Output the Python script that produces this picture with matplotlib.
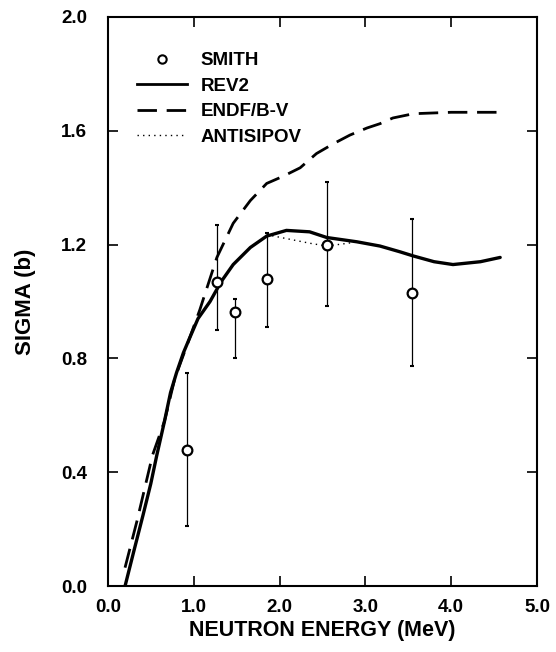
import matplotlib
matplotlib.use("Agg")
import matplotlib.pyplot as plt
from matplotlib.lines import Line2D

# SMITH data
smith_e = [0.92, 1.27, 1.48, 1.85, 2.55, 3.54]
smith_s = [0.48, 1.07, 0.965, 1.08, 1.20, 1.03]
smith_lo = [0.21, 0.90, 0.80, 0.91, 0.985, 0.775]
smith_hi = [0.75, 1.27, 1.01, 1.24, 1.42, 1.29]

# REV2 curve
rev2_e = [0.20, 0.30, 0.41, 0.50, 0.57, 0.66, 0.73, 0.80, 0.88, 0.95, 1.05, 1.19,
          1.32, 1.46, 1.66, 1.85, 2.08, 2.35, 2.55, 2.90, 3.17, 3.40, 3.56, 3.80,
          4.02, 4.34, 4.57]
rev2_s = [0.00, 0.12, 0.25, 0.36, 0.46, 0.58, 0.68, 0.75, 0.82, 0.87, 0.94, 1.00,
          1.07, 1.13, 1.19, 1.23, 1.25, 1.245, 1.225, 1.21, 1.195, 1.175, 1.16, 1.14,
          1.13, 1.14, 1.155]

# ENDF/B-V curve
endf_e = [0.20, 0.34, 0.52, 0.66, 0.78, 0.95, 1.07, 1.27, 1.46, 1.66, 1.85, 2.04,
          2.24, 2.43, 2.63, 2.82, 3.02, 3.17, 3.32, 3.56, 4.00, 4.55]
endf_s = [0.065, 0.23, 0.46, 0.58, 0.73, 0.87, 0.97, 1.155, 1.275, 1.355, 1.415, 1.44,
          1.47, 1.52, 1.555, 1.585, 1.61, 1.625, 1.645, 1.66, 1.665, 1.665]

# ANTISIPOV curve
anti_e = [1.85, 2.10, 2.35, 2.55, 2.80, 2.90]
anti_s = [1.235, 1.22, 1.205, 1.195, 1.205, 1.21]

xticks = [0, 1, 2, 3, 4, 5]
xticklabels = ["0.0", "1.0", "2.0", "3.0", "4.0", "5.0"]
yticks = [0.0, 0.4, 0.8, 1.2, 1.6, 2.0]
yticklabels = ["0.0", "0.4", "0.8", "1.2", "1.6", "2.0"]

plt.rcParams['font.family'] = ['Liberation Sans', 'DejaVu Sans']

fig = plt.figure(figsize=(5.56, 6.52), dpi=100)
ax = fig.add_axes([0.194, 0.101, 0.772, 0.873])

ax.plot(rev2_e, rev2_s, color='black', lw=2.4, ls='-', label='REV2',
        solid_joinstyle='round', solid_capstyle='round')
ax.plot(endf_e, endf_s, color='black', lw=2.0, ls=(0, (7, 3.5)), label='ENDF/B-V',
        dash_joinstyle='round')
ax.plot(anti_e, anti_s, color='black', lw=1.0, ls=(0, (1, 3)), label='ANTISIPOV')

yerr = [[s - lo for s, lo in zip(smith_s, smith_lo)], [hi - s for s, hi in zip(smith_s, smith_hi)]]
ax.errorbar(smith_e, smith_s, yerr=yerr, fmt='none', ecolor='black', elinewidth=0.9,
            capsize=1.2, capthick=1.5)
ax.plot(smith_e, smith_s, 'o', ms=7, mfc='white', mec='black', mew=1.6, ls='none',
        label='SMITH', zorder=5)

ax.set_xlim(0, 5)
ax.set_ylim(0, 2)
ax.set_xticks(xticks)
ax.set_xticklabels(xticklabels)
ax.set_yticks(yticks)
ax.set_yticklabels(yticklabels)
ax.tick_params(direction='in', top=True, right=True, length=7, width=1.2,
               labelsize=13.5, pad=9)
for lbl in ax.get_xticklabels() + ax.get_yticklabels():
    lbl.set_fontweight('bold')
ax.tick_params(axis='y', pad=15)
for sp in ax.spines.values():
    sp.set_linewidth(1.5)

ax.set_xlabel('NEUTRON ENERGY (MeV)', fontsize=15.5, fontweight='bold', labelpad=3)
ax.set_ylabel('SIGMA (b)', fontsize=16, fontweight='bold', labelpad=18)

handles = [
    Line2D([], [], marker='o', ms=6, mfc='white', mec='black', mew=1.5, ls='none'),
    Line2D([], [], color='black', lw=2.0, ls='-'),
    Line2D([], [], color='black', lw=2.0, ls=(0, (7, 3.5))),
    Line2D([], [], color='black', lw=1.0, ls=(0, (1, 3))),
]
labels = ['SMITH', 'REV2', 'ENDF/B-V', 'ANTISIPOV']
leg = ax.legend(handles, labels, loc='upper left', bbox_to_anchor=(0.028, 0.968), frameon=False,
                fontsize=13.5, handlelength=2.7, handletextpad=0.7, labelspacing=0.45)
for t in leg.get_texts():
    t.set_fontweight('bold')

fig.savefig('out.png', dpi=100)
